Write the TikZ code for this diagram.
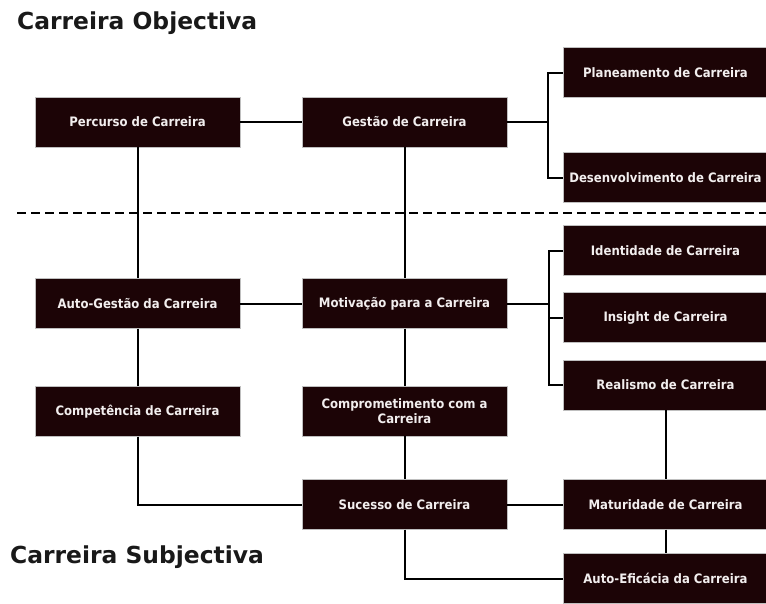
\documentclass[tikz,border=0pt]{standalone}
\usepackage{fontspec}
\setmainfont{DejaVu Sans}
\newfontfamily\boxfont{DejaVu Sans Condensed}
\begin{document}
\definecolor{boxfill}{RGB}{28,4,6}
\definecolor{boxtext}{RGB}{242,238,238}
\begin{tikzpicture}[x=1pt,y=-1pt,
  cbox/.style={rectangle, fill=boxfill, draw=black!25, line width=0.4pt,
    minimum width=205pt, minimum height=50pt, inner sep=0pt,
    text=boxtext, align=center,
    font=\boxfont\fontsize{13}{15}\selectfont\bfseries},
  link/.style={line width=2pt, draw=black, line join=miter},
  heading/.style={anchor=base west, inner sep=0pt,
    font=\fontsize{23.4}{28}\selectfont\bfseries, text=black!90}]
\useasboundingbox (0,0) rectangle (766,603);

% headings
\node[heading] (hobj) at (17,29) {Carreira Objectiva};
\node[heading] (hsub) at (10,563) {Carreira Subjectiva};

% boundary between the objective and subjective career
\coordinate (dl) at (17,213);
\coordinate (dr) at (768,213);
\draw[line width=2.6pt, dash pattern=on 9pt off 5pt] (dl) -- (dr);

% boxes
\node[cbox] (perc) at (137.5,122) {Percurso de Carreira};
\node[cbox] (gest) at (404.5,122) {Gestão de Carreira};
\node[cbox] (plan) at (665.5,72.5) {Planeamento de Carreira};
\node[cbox] (desv) at (665.5,177.5) {Desenvolvimento de Carreira};
\node[cbox] (agest) at (137.5,303.5) {Auto-Gestão da Carreira};
\node[cbox] (motiv) at (404.5,303.5) {Motivação para a Carreira};
\node[cbox] (ident) at (665.5,250.5) {Identidade de Carreira};
\node[cbox] (insig) at (665.5,317.5) {Insight de Carreira};
\node[cbox] (real) at (665.5,385) {Realismo de Carreira};
\node[cbox] (compt) at (137.5,411.5) {Competência de Carreira};
\node[cbox] (compr) at (404.5,411) {Comprometimento com a\\Carreira};
\node[cbox] (suc) at (404.5,504.5) {Sucesso de Carreira};
\node[cbox] (mat) at (665.5,504.5) {Maturidade de Carreira};
\node[cbox] (aef) at (665.5,578.5) {Auto-Eficácia da Carreira};

% junction points of the brackets
\coordinate (br1) at (548,122);
\coordinate (br2) at (549,303.5);

% connectors
\draw[link] (perc) -- (gest);
\draw[link] (gest.east) -- (br1) |- (plan.west);
\draw[link] (br1) |- (desv.west);
\draw[link] (perc) -- (agest);
\draw[link] (gest) -- (motiv);
\draw[link] (agest) -- (motiv);
\draw[link] (motiv.east) -- (br2) |- (ident.west);
\draw[link] (br2) |- (real.west);
\draw[link] (br2) |- (insig.west);
\draw[link] (agest) -- (compt);
\draw[link] (motiv) -- (compr);
\draw[link] (compt.south) |- (suc.west);
\draw[link] (compr) -- (suc);
\draw[link] (suc) -- (mat);
\draw[link] (real) -- (mat);
\draw[link] (mat) -- (aef);
\draw[link] (suc.south) |- (aef.west);
\end{tikzpicture}
\end{document}
